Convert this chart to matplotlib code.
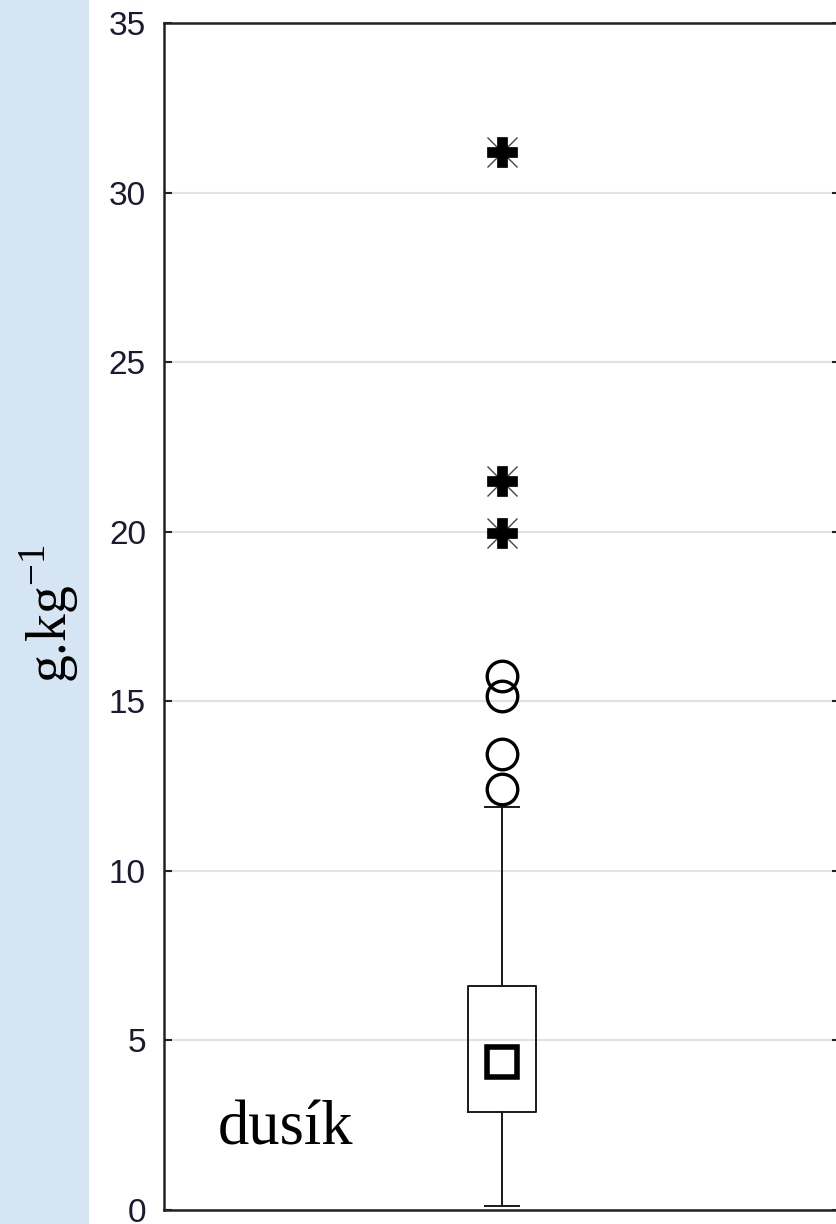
import matplotlib.pyplot as plt
from matplotlib.patches import Rectangle

# box statistics (g/kg)
q1, med, q3 = 2.89, 4.36, 6.6
whisker_lo, whisker_hi = 0.12, 11.88
outliers = [12.4, 13.45, 15.15, 15.75]
extremes = [19.95, 21.5, 31.2]
yticks = [0, 5, 10, 15, 20, 25, 30, 35]

plt.rcParams['mathtext.fontset'] = 'custom'
plt.rcParams['mathtext.rm'] = 'Liberation Serif'

fig = plt.figure(figsize=(8.36, 12.24), dpi=100)
fig.patch.set_facecolor('#d5e5f3')
# white area right of the blue strip
fig.patches.append(Rectangle((89 / 836, 0), 1, 1, transform=fig.transFigure,
                             facecolor='white', edgecolor='none', zorder=-5))

ax = fig.add_axes([164 / 836, 14 / 1224, 676 / 836, 1187 / 1224])
ax.set_facecolor('white')

stats = [dict(med=med, q1=q1, q3=q3, whislo=whisker_lo, whishi=whisker_hi, fliers=[])]
ax.bxp(stats, positions=[1], widths=0.2, capwidths=0.1,
       boxprops=dict(color='#1a1a1a', linewidth=1.4),
       whiskerprops=dict(color='#1a1a1a', linewidth=1.4),
       capprops=dict(color='#1a1a1a', linewidth=1.4),
       medianprops=dict(linewidth=0), zorder=3)

# median marker
ax.plot([1], [med], marker='s', markersize=21, markerfacecolor='white',
        markeredgecolor='black', markeredgewidth=4, zorder=4)

# outliers
ax.plot([1] * len(outliers), outliers, linestyle='none', marker='o', markersize=22,
        markerfacecolor='none', markeredgecolor='black', markeredgewidth=2.4, zorder=4)

# extremes
ax.plot([1] * len(extremes), extremes, linestyle='none', marker='x', markersize=22,
        markeredgecolor='#444444', markeredgewidth=1.0, zorder=4)
ax.plot([1] * len(extremes), extremes, linestyle='none', marker='P', markersize=21,
        markerfacecolor='black', markeredgecolor='black', markeredgewidth=0.5, zorder=5)

ax.set_xlim(0, 2)
ax.set_ylim(0, 35)
ax.set_yticks(yticks)
ax.set_xticks([])
ax.yaxis.grid(True, color='#e2e2e2', linewidth=1.5)
ax.set_axisbelow(True)
ax.tick_params(axis='y', direction='in', length=6, width=1.5, color='#222222',
               right=True, pad=13, labelsize=24, labelcolor='#1a1a30')
for lbl in ax.get_yticklabels():
    lbl.set_fontfamily('Liberation Sans')
for sp in ax.spines.values():
    sp.set_color('#222222')
    sp.set_linewidth(1.8)

ax.text(0.08, 0.055, 'dusík', transform=ax.transAxes, fontsize=45,
        fontfamily='Liberation Serif', va='baseline', ha='left')

fig.text(49 / 836, 1 - 614 / 1224, r'g.kg$^{\mathrm{-1}}$', rotation=90,
         fontsize=40, fontfamily='Liberation Serif', ha='center', va='center')

fig.savefig('out.png', dpi=100, facecolor=fig.get_facecolor())
